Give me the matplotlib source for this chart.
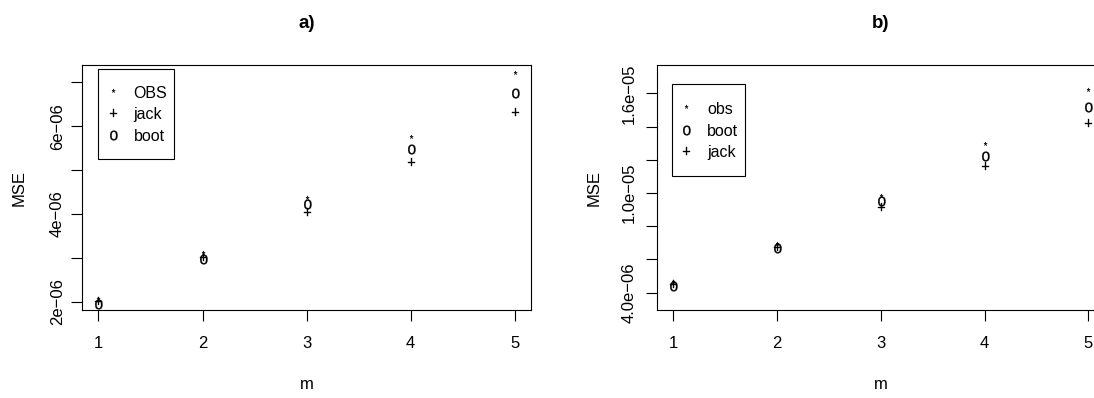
import matplotlib
matplotlib.use("Agg")
import matplotlib.pyplot as plt
import numpy as np
from matplotlib.textpath import TextPath
from matplotlib.font_manager import FontProperties
from matplotlib.path import Path
from matplotlib.lines import Line2D
from matplotlib.patches import Rectangle

plt.rcParams['font.family'] = ['Liberation Sans', 'DejaVu Sans']

# ---------------- data ----------------
m = [1, 2, 3, 4, 5]

# panel a)
obs_a = [2.05e-06, 3.09e-06, 4.35e-06, 5.72e-06, 7.19e-06]
jack_a = [1.99e-06, 2.99e-06, 4.03e-06, 5.15e-06, 6.29e-06]
boot_a = [1.95e-06, 2.97e-06, 4.22e-06, 5.47e-06, 6.75e-06]

# panel b)
obs_b = [4.59e-06, 6.86e-06, 9.77e-06, 1.289e-05, 1.614e-05]
boot_b = [4.42e-06, 6.68e-06, 9.53e-06, 1.222e-05, 1.519e-05]
jack_b = [4.45e-06, 6.70e-06, 9.11e-06, 1.158e-05, 1.415e-05]

yticks_a = [2e-06, 3e-06, 4e-06, 5e-06, 6e-06, 7e-06]
ylabels_a = ['2e\u221206', '', '4e\u221206', '', '6e\u221206', '']
yticks_b = [4e-06, 6e-06, 8e-06, 1.0e-05, 1.2e-05, 1.4e-05, 1.6e-05]
ylabels_b = ['4.0e\u221206', '', '', '1.0e\u221205', '', '', '1.6e\u221205']

legend_a = ['OBS', 'jack', 'boot']
legend_b = ['obs', 'boot', 'jack']

# ---------------- helpers ----------------
W, H = 1094, 398
FONT = FontProperties(family='Liberation Sans')


def glyph(ch, xscale=0.88):
    tp = TextPath((0, 0), ch, size=10, prop=FONT)
    v = tp.vertices.copy()
    c = (v.min(axis=0) + v.max(axis=0)) / 2.0
    v = v - c
    v[:, 0] *= xscale
    return Path(v, tp.codes)


MK = {'*': glyph('*'), '+': glyph('+'), 'o': glyph('o')}
MS = {'*': 5.0, '+': 6.5, 'o': 7.0}
MEW = {'*': 0.2, '+': 0.25, 'o': 0.2}


def ax_px(x0, x1, y0, y1):
    return fig.add_axes([x0 / W, (H - y1) / H, (x1 - x0) / W, (y1 - y0) / H])


def to_axes(ax, x, y, box):
    x0, x1, y0, y1 = box
    return (x - x0) / (x1 - x0), (y1 - y) / (y1 - y0)


fig = plt.figure(figsize=(W / 100, H / 100), dpi=100)

box_a = (81.85, 531.4, 65, 310)
box_b = (656.5, 1105.1, 65, 310)
ax_a = ax_px(*box_a)
ax_b = ax_px(*box_b)


def style(ax, box, yt, yl, ylim, title, ypad):
    ax.set_xlim(0.84, 5.16)
    ax.set_ylim(*ylim)
    ax.set_xticks(m)
    ax.set_xticklabels([str(v) for v in m])
    ax.set_yticks(yt)
    ax.set_yticklabels(yl)
    for s in ax.spines.values():
        s.set_linewidth(0.8)
        s.set_color('black')
    ax.tick_params(axis='both', direction='out', length=7.8, width=0.8,
                   labelsize=12, colors='black')
    ax.tick_params(axis='x', pad=11)
    ax.tick_params(axis='y', pad=ypad, labelrotation=90)
    for lab in ax.get_yticklabels():
        lab.set_verticalalignment('center')
    ax.set_xlabel('m', fontsize=12)
    ax.set_ylabel('MSE', fontsize=12)
    ax.xaxis.set_label_coords(0.5, (box[3] - 377) / (box[3] - box[2]))
    ax.set_title(title, fontsize=13.5, fontweight='bold', pad=27)


style(ax_a, box_a, yticks_a, ylabels_a, (1.811e-06, 7.394e-06), 'a)', 4.5)
style(ax_b, box_b, yticks_b, ylabels_b, (2.946e-06, 1.7705e-05), 'b)', 6.5)
ax_a.yaxis.set_label_coords((26.5 - box_a[0]) / (box_a[1] - box_a[0]), 0.5)
ax_b.yaxis.set_label_coords((601.2 - box_b[0]) / (box_b[1] - box_b[0]), 0.5)


def pts(ax, y, sym):
    ax.plot(m, y, linestyle='none', marker=MK[sym], markersize=MS[sym],
            color='black', markeredgewidth=MEW[sym], clip_on=False)


pts(ax_a, obs_a, '*')
pts(ax_a, jack_a, '+')
pts(ax_a, boot_a, 'o')

pts(ax_b, obs_b, '*')
pts(ax_b, boot_b, 'o')
pts(ax_b, jack_b, '+')


def legend(ax, box, labels, syms, frame, sym_x, row1_y):
    fx0, fy0, fx1, fy1 = frame
    ax0, ay1 = to_axes(ax, fx0, fy0, box)
    ax1, ay0 = to_axes(ax, fx1, fy1, box)
    ax.add_patch(Rectangle((ax0, ay0), ax1 - ax0, ay1 - ay0,
                           transform=ax.transAxes, fill=False,
                           edgecolor='black', linewidth=0.8, zorder=5))
    handles = [Line2D([], [], linestyle='none', marker=MK[s],
                      markersize=MS[s], color='black',
                      markeredgewidth=MEW[s])
               for s in syms]
    fs = 11.5
    fs_px = fs * 100 / 72
    hl = 1.2
    lx, ly = to_axes(ax, sym_x - hl * fs_px / 2, row1_y - 6.5, box)
    ax.legend(handles, labels, loc='upper left', bbox_to_anchor=(lx, ly),
              bbox_transform=ax.transAxes, frameon=False, borderpad=0,
              borderaxespad=0, handlelength=hl, handletextpad=0.72,
              labelspacing=0.42, fontsize=fs)


legend(ax_a, box_a, legend_a, ['*', '+', 'o'], (98.3, 68.8, 173.9, 159.3),
       112.5, 92.0)
legend(ax_b, box_b, legend_b, ['*', 'o', '+'], (672.0, 84.3, 745.4, 175.7),
       686.0, 108.3)

fig.savefig('out.png', dpi=100)
